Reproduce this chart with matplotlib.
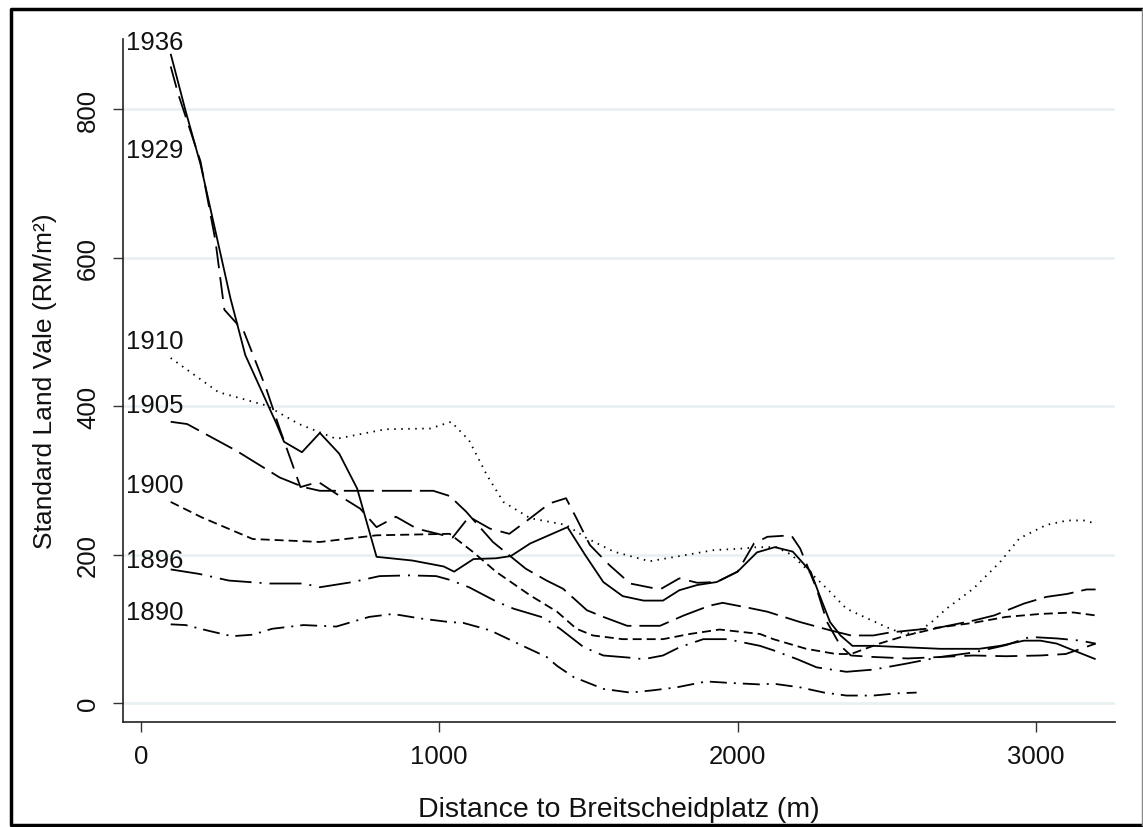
import numpy as np
import matplotlib.pyplot as plt
from matplotlib.lines import Line2D

plt.rcParams['font.family'] = ['Liberation Sans', 'DejaVu Sans']
plt.rcParams['lines.scale_dashes'] = False

# distance (m) and standard land value (RM/m2) per year
x1936 = [100, 150, 200, 245, 300, 350, 455, 480, 540, 600, 665, 725, 790, 910, 1015, 1050,
         1115, 1190, 1240, 1305, 1430, 1490, 1550, 1615, 1685, 1750, 1805, 1865, 1930, 2000,
         2065, 2125, 2185, 2245, 2275, 2310, 2345, 2385, 2455, 2680, 2810, 2880, 2960, 3015,
         3070, 3125, 3200]
y1936 = [875, 798, 726, 645, 546, 469, 376, 352, 338, 364, 336, 289, 197, 192, 184, 177,
         194, 195, 198, 215, 237, 199, 163, 144, 138, 138, 152, 159, 163, 177,
         203, 210, 204, 177, 145, 109, 91, 77, 77, 73, 73, 77, 84, 84,
         80, 71, 59]

x1929 = [100, 125, 200, 250, 280, 345, 420, 465, 505, 535, 595, 655, 735, 790, 855, 925,
         1045, 1100, 1170, 1235, 1305, 1370, 1425, 1460, 1505, 1570, 1640, 1740, 1805, 1865,
         1930, 2000, 2055, 2100, 2180, 2210, 2265, 2300, 2345, 2380, 2455, 2570, 2680, 2790,
         2900, 3015, 3100, 3200]
y1929 = [858, 821, 730, 623, 530, 501, 424, 370, 325, 291, 298, 282, 262, 237, 251, 235,
         223, 251, 235, 228, 249, 269, 276, 249, 213, 186, 161, 153, 168, 162,
         163, 177, 215, 224, 226, 208, 154, 109, 77, 64, 62, 60, 62, 64,
         63, 64, 66, 80]

x1910 = [100, 260, 420, 530, 655, 820, 970, 1040, 1100, 1160, 1215, 1305, 1425, 1495, 1585,
         1705, 1820, 1920, 2010, 2065, 2130, 2180, 2230, 2300, 2365, 2435, 2500, 2545, 2590,
         2645, 2700, 2790, 2880, 2945, 3035, 3105, 3160, 3200]
y1910 = [465, 419, 401, 376, 356, 369, 370, 379, 354, 307, 271, 249, 240, 222, 204,
         191, 199, 206, 208, 210, 210, 200, 181, 154, 127, 114, 102, 95, 93,
         107, 127, 154, 190, 222, 240, 246, 246, 242]

x1905 = [100, 155, 320, 465, 545, 600, 980, 1035, 1090, 1180, 1290, 1360, 1415, 1495, 1550,
         1630, 1740, 1820, 1905, 1950, 2040, 2100, 2210, 2310, 2380, 2455, 2510, 2680, 2790,
         2860, 2960, 3035, 3105, 3170, 3200]
y1905 = [379, 376, 340, 304, 291, 286, 286, 279, 258, 217, 181, 165, 154, 125, 116,
         104, 104, 118, 131, 135, 128, 123, 109, 98, 91, 91, 95, 102, 111,
         118, 134, 143, 147, 153, 153]

x1900 = [100, 205, 375, 600, 790, 1035, 1115, 1190, 1305, 1395, 1460, 1515, 1615, 1750, 1840,
         1940, 2075, 2120, 2230, 2330, 2380, 2475, 2565, 2680, 2790, 2900, 3015, 3125, 3200]
y1900 = [271, 250, 221, 217, 226, 228, 203, 177, 145, 123, 100, 91, 86, 86, 93,
         99, 93, 86, 73, 66, 66, 80, 91, 102, 108, 116, 120, 122, 118]

x1896 = [100, 195, 295, 430, 545, 600, 710, 800, 900, 990, 1035, 1100, 1190, 1250, 1350,
         1405, 1485, 1550, 1640, 1685, 1750, 1805, 1885, 1965, 2075, 2120, 2200, 2265, 2365,
         2455, 2565, 2680, 2790, 2900, 2980, 3070, 3150, 3200]
y1896 = [180, 174, 165, 161, 161, 156, 163, 171, 172, 171, 166, 156, 137, 127, 115,
         100, 75, 64, 61, 59, 64, 75, 86, 86, 77, 71, 59, 48, 42,
         45, 53, 62, 68, 78, 89, 87, 84, 80]

x1890 = [100, 150, 230, 305, 375, 440, 545, 655, 765, 845, 935, 1035, 1080, 1170, 1280,
         1360, 1395, 1450, 1550, 1640, 1715, 1795, 1895, 1975, 2075, 2120, 2210, 2290, 2365,
         2455, 2535, 2600]
y1890 = [106, 105, 97, 90, 92, 100, 105, 103, 116, 120, 114, 109, 108, 98, 77,
         62, 50, 35, 19, 14, 17, 21, 29, 27, 25, 26, 21, 14, 10,
         10, 13, 14]

years = ['1936', '1929', '1910', '1905', '1900', '1896', '1890']
label_y = [882, 736, 479, 392, 285, 183, 113]

pt = 0.72  # px -> pt at 100 dpi
styles = [(0, ()),
          (0, (22*pt, 9*pt)),
          (0, (1.5*pt, 5.5*pt)),
          (0, (30*pt, 8*pt)),
          (0, (9*pt, 5*pt)),
          (0, (32*pt, 8*pt, 2*pt, 8*pt)),
          (0, (17*pt, 7*pt, 2*pt, 7*pt))]

series = [(x1936, y1936), (x1929, y1929), (x1910, y1910), (x1905, y1905),
          (x1900, y1900), (x1896, y1896), (x1890, y1890)]

fig = plt.figure(figsize=(11.43, 8.28), dpi=100)
ax = fig.add_axes([0.1073, 0.1274, 0.8682, 0.8243])

for (xx, yy), ls in zip(series, styles):
    ax.plot(xx, yy, color='black', linestyle=ls, linewidth=1.3)

for yr, ly in zip(years, label_y):
    ax.text(-49, ly, yr, fontsize=18.5, ha='left', va='baseline', color='#111111', clip_on=False)

ax.set_xlim(-61, 3265)
ax.set_ylim(-25, 895)
ax.set_xticks([0, 1000, 2000, 3000])
ax.set_yticks([0, 200, 400, 600, 800])
ax.grid(axis='y', color='#e8f1f2', linewidth=2)
ax.set_axisbelow(True)

for s in ['top', 'right']:
    ax.spines[s].set_visible(False)
for s in ['left', 'bottom']:
    ax.spines[s].set_linewidth(1.2)
    ax.spines[s].set_color('#222222')

ax.tick_params(axis='both', direction='out', length=7.2, width=1, color='#333333',
               labelsize=18.5, labelcolor='#111111')
ax.tick_params(axis='x', pad=9)
ax.tick_params(axis='y', pad=9)
plt.setp(ax.get_yticklabels(), rotation=90, va='center')

ax.set_xlabel('Distance to Breitscheidplatz (m)', fontsize=20.5, color='#111111', labelpad=20)
ax.set_ylabel('Standard Land Vale (RM/m²)', fontsize=19, color='#111111', labelpad=14)

# outer border: heavy black on three sides, thin grey on the right
W, H = 1143, 828
left, right, top, bot = 11 / W, 1142 / W, 1 - 10 / H, 1 - 826 / H
fig.lines.append(Line2D([right, left, left, right], [top, top, bot, bot],
                        transform=fig.transFigure, color='black', linewidth=2.5))
fig.lines.append(Line2D([right, right], [top, bot], transform=fig.transFigure,
                        color='#888888', linewidth=1))

fig.savefig('out.png', dpi=100)
